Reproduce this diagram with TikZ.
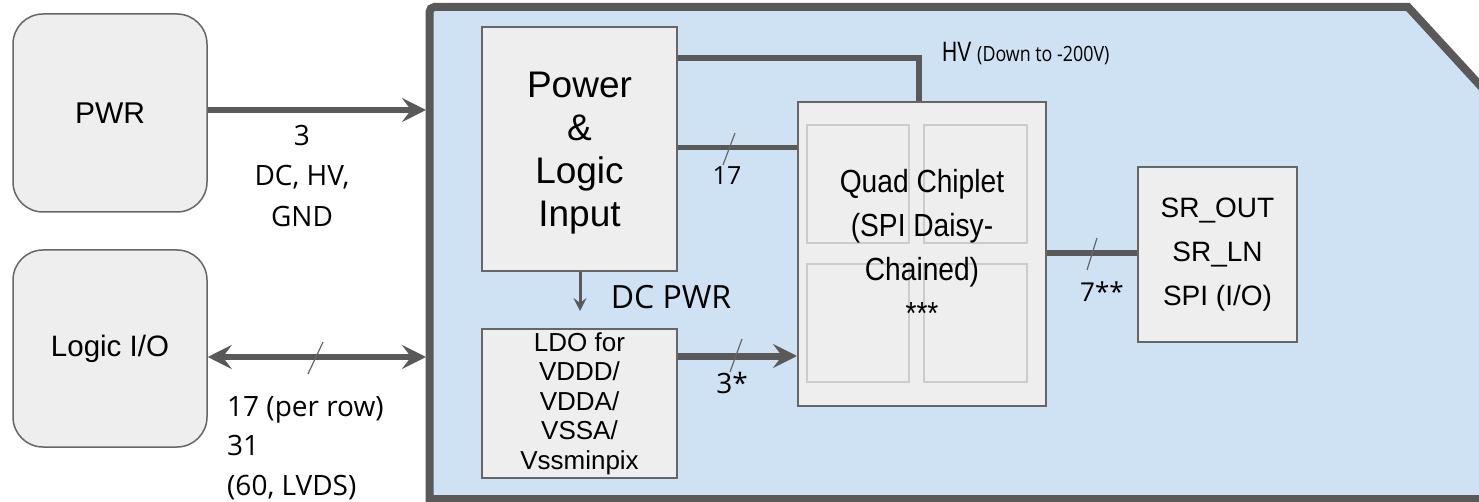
\documentclass[tikz,border=0pt]{standalone}
\usepackage{fontspec}
\setmainfont{Liberation Sans}
\newfontfamily\osans{Open Sans}
\newfontfamily\narrowsans{Liberation Sans}[FakeStretch=0.88]
\newfontfamily\osnarrow{Open Sans}[FakeStretch=0.85]
\newfontfamily\hvfont{Liberation Sans}[FakeStretch=0.75]
\usetikzlibrary{arrows.meta}
\definecolor{framec}{HTML}{595959}
\definecolor{bluefill}{HTML}{CFE2F3}
\definecolor{boxfill}{HTML}{EEEEEE}
\definecolor{boxline}{HTML}{666666}
\definecolor{innerline}{HTML}{CCCCCC}
\begin{document}
\begin{tikzpicture}[x=1pt,y=-1pt,
  extbox/.style={draw=boxline, fill=boxfill, line width=1.5pt, rounded corners=30pt, inner sep=0pt, align=center},
  blockbox/.style={draw=boxline, fill=boxfill, line width=2pt, inner sep=0pt, align=center},
  innersq/.style={draw=innerline, line width=1.5pt},
  wire/.style={draw=framec, line width=6pt},
  bigtip/.style={-{Stealth[length=24pt,width=24pt,inset=9pt]}},
  bothtip/.style={{Stealth[length=24pt,width=24pt,inset=9pt]}-{Stealth[length=24pt,width=24pt,inset=9pt]}},
  slashmark/.style={draw=boxline, line width=1.2pt},
  lbl/.style={inner sep=0pt, text=black}
]
\useasboundingbox (0,0) rectangle (1479,502);
\clip (0,0) rectangle (1479,502);
\fill[white] (0,0) rectangle (1479,502);

% outer frame
\draw[draw=framec, fill=bluefill, line width=8pt, line join=miter]
  (429.5,60) [rounded corners=5pt] -- (429.5,7) [sharp corners] -- (1408,7) -- (1600,216) -- (1600,499) -- (429.5,499) -- cycle;
\coordinate (frameL) at (426,0);

% helper rows
\coordinate (ypwr) at (0,110);
\coordinate (ylio) at (0,357);
\coordinate (y17) at (0,148);
\coordinate (yldo) at (0,356);
\coordinate (ysr) at (0,253);

% external boxes
\node[extbox, minimum width=194pt, minimum height=198pt, font=\fontsize{30}{36}\selectfont] (pwr) at (110,113) {PWR};
\node[extbox, minimum width=194pt, minimum height=197pt, font=\fontsize{29.5}{34}\selectfont] (lio) at (110,348.5) {Logic I/O};

% internal blocks
\node[blockbox, minimum width=195pt, minimum height=244pt] (pow) at (579.5,149) {};
\node[lbl, align=center, font=\fontsize{37}{43}\selectfont] (powtext) at (579.5,153) {Power\\\&\\Logic\\Input};
\node[blockbox, minimum width=195pt, minimum height=149pt, font=\fontsize{26}{29.5}\selectfont] (ldo) at (579.5,403.5)
  {LDO for\\VDDD/\\VDDA/\\VSSA/\\Vssminpix};
\node[blockbox, minimum width=248pt, minimum height=304pt] (chip) at (922,254) {};
\node[blockbox, minimum width=159pt, minimum height=175pt, font=\fontsize{28}{44}\selectfont] (sr) at (1217.5,254.5)
  {SR\_OUT\\SR\_LN\\SPI (I/O)};

% chiplet quadrants
\draw[innersq] (807,125) rectangle (909,243);
\draw[innersq] (924,125) rectangle (1027,243);
\draw[innersq] (807,264) rectangle (909,382);
\draw[innersq] (924,264) rectangle (1027,382);
\node[lbl, align=center, font=\narrowsans\fontsize{32}{44}\selectfont] (chiptext) at (922,247)
  {Quad Chiplet\\(SPI Daisy-\\Chained)\\***};

% connectors
\draw[wire, bigtip] (pwr.east |- ypwr) -- (frameL |- ypwr);
\draw[wire, bothtip] (lio.east |- ylio) -- (frameL |- ylio);
\coordinate (hvk) at (919,58);
\draw[wire, line join=miter] (pow.east |- hvk) -- (hvk) -- (hvk |- chip.north);
\draw[wire, line width=5pt] (pow.east |- y17) -- (chip.west |- y17);
\draw[wire, line width=7pt, bigtip] (ldo.east |- yldo) -- (chip.west |- yldo);
\draw[wire] (chip.east |- ysr) -- (sr.west |- ysr);
\coordinate (dcend) at (580,311);
\draw[draw=framec, line width=3pt, -{Stealth[length=13pt,width=13pt,inset=5pt]}] (pow.south -| dcend) -- (dcend);

% slash marks
\draw[slashmark] (735,133) -- (723,165);
\draw[slashmark] (742,339) -- (730,372);
\draw[slashmark] (1097,238) -- (1087,270);
\draw[slashmark] (323,342) -- (308,374);

% labels
\node[lbl, align=center, font=\osans\fontsize{28}{40}\selectfont] (pwrlbl) at (302,176) {3\\DC, HV,\\GND};
\node[lbl, align=left, anchor=west, font=\osans\fontsize{28}{39.5}\selectfont] (liolbl) at (227,448) {17 (per row)\\31\\(60, LVDS)};
\node[lbl, font=\osans\fontsize{25}{30}\selectfont] (l17) at (727,176) {17};
\node[lbl, font=\osans\fontsize{28}{32}\selectfont] (l3s) at (732,383) {3*};
\node[lbl, font=\osans\fontsize{26}{32}\selectfont] (l7s) at (1102,292) {7**};
\node[lbl, font=\osans\fontsize{32}{36}\selectfont] (dcpwr) at (671,297) {DC PWR};
\node[lbl, anchor=base west, font=\hvfont\fontsize{28}{32}\selectfont] (hvlbl) at (942,62) {HV\ {\osnarrow\fontsize{21}{24}\selectfont (Down to -200V)}};
\end{tikzpicture}
\end{document}
